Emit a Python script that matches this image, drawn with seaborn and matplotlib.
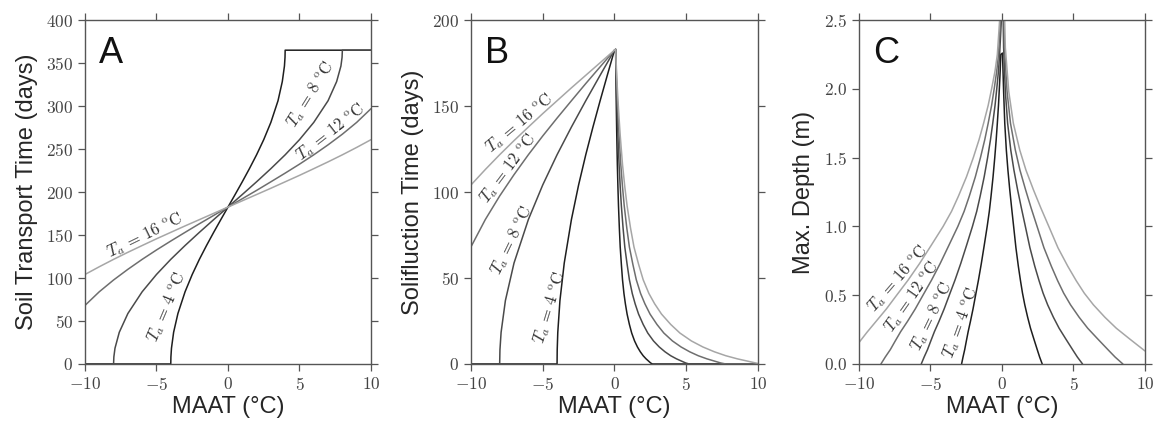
import matplotlib
matplotlib.use("Agg")
import matplotlib.pyplot as plt
import seaborn as sns
from matplotlib.ticker import FuncFormatter, MultipleLocator

# Panel A - soil transport time (days)
a_x_4 = [-10, -4.0, -3.99, -3.95, -3.8, -3.5, -3.0, -2.5, -2.0, -1.5, -1.0, -0.5, 0,
         0.5, 1.0, 1.5, 2.0, 2.5, 3.0, 3.5, 3.8, 3.95, 3.99, 4.0, 10]
a_y_4 = [0, 0, 8.2, 18.4, 36.9, 58.7, 84.0, 104.1, 121.7, 137.8, 153.1, 167.9, 182.5,
         197.1, 211.9, 227.2, 243.3, 260.9, 281.0, 306.2, 328.5, 346.6, 356.8, 365, 365]
a_x_8 = [-10, -8.0, -7.98, -7.9, -7.6, -7.0, -6.0, -5.0, -4.0, -3.0, -2.0, -1.0, 0,
         1.0, 2.0, 3.0, 4.0, 5.0, 6.0, 7.0, 7.6, 7.9, 7.98, 8.0, 10]
a_y_8 = [0, 0, 8.2, 18.4, 36.9, 58.7, 84.0, 104.1, 121.7, 137.8, 153.1, 167.9, 182.5,
         197.1, 211.9, 227.2, 243.3, 260.9, 281.0, 306.2, 328.5, 346.6, 356.8, 365, 365]
a_x_12 = [-10, -9, -8, -7, -6, -5, -4, -3, -2, -1, 0, 1, 2, 3, 4, 5, 6, 7, 8, 9, 10]
a_y_12 = [68.1, 84.0, 97.7, 110.1, 121.7, 132.6, 143.0, 153.1, 163.1, 172.8, 182.5,
          192.2, 201.9, 211.9, 222.0, 232.4, 243.3, 254.9, 267.3, 281.0, 296.9]
a_x_16 = [-10, -9, -8, -7, -6, -5, -4, -3, -2, -1, 0, 1, 2, 3, 4, 5, 6, 7, 8, 9, 10]
a_y_16 = [104.1, 113.1, 121.7, 129.9, 137.8, 145.6, 153.1, 160.6, 167.9, 175.2, 182.5,
          189.8, 197.1, 204.4, 211.9, 219.4, 227.2, 235.1, 243.3, 251.9, 260.9]

# Panel B - solifluction time (days); cold side, then warm side
b_left_x_4 = [-10, -4.0, -3.99, -3.95, -3.8, -3.5, -3.0, -2.5, -2.0, -1.5, -1.0, -0.5, 0]
b_left_y_4 = [0, 0, 8.2, 18.4, 36.9, 58.7, 84.0, 104.1, 121.7, 137.8, 153.1, 167.9, 182.5]
b_left_x_8 = [-10, -8.0, -7.98, -7.9, -7.6, -7.0, -6.0, -5.0, -4.0, -3.0, -2.0, -1.0, 0]
b_left_y_8 = [0, 0, 8.2, 18.4, 36.9, 58.7, 84.0, 104.1, 121.7, 137.8, 153.1, 167.9, 182.5]
b_left_x_12 = [-10, -9, -8, -7, -6, -5, -4, -3, -2, -1, 0]
b_left_y_12 = [68.1, 84.0, 97.7, 110.1, 121.7, 132.6, 143.0, 153.1, 163.1, 172.8, 182.5]
b_left_x_16 = [-10, -9, -8, -7, -6, -5, -4, -3, -2, -1, 0]
b_left_y_16 = [104.1, 113.1, 121.7, 129.9, 137.8, 145.6, 153.1, 160.6, 167.9, 175.2, 182.5]

b_right_y = [183, 167, 154, 143, 133, 116, 103, 92, 79, 68, 58, 49, 41, 35, 29, 23,
             18, 13.4, 9.9, 7.1, 4.8, 3.0, 1.5, 0.6, 0]
b_right_x_4 = [0.08, 0.1, 0.12, 0.14, 0.16, 0.2, 0.24, 0.28, 0.34, 0.4, 0.48, 0.56, 0.66,
               0.76, 0.88, 1.04, 1.2, 1.4, 1.6, 1.8, 2.0, 2.2, 2.4, 2.52, 2.64]
b_right_x_8 = [0.08, 0.12, 0.16, 0.2, 0.24, 0.32, 0.4, 0.48, 0.6, 0.72, 0.88, 1.04, 1.24,
               1.44, 1.68, 2.0, 2.32, 2.72, 3.12, 3.52, 3.92, 4.32, 4.72, 4.96, 5.2]
b_right_x_12 = [0.08, 0.14, 0.2, 0.26, 0.32, 0.44, 0.56, 0.68, 0.86, 1.04, 1.28, 1.52, 1.82,
                2.12, 2.48, 2.96, 3.44, 4.04, 4.64, 5.24, 5.84, 6.44, 7.04, 7.4, 7.76]
b_right_x_16 = [0.08, 0.16, 0.24, 0.32, 0.4, 0.56, 0.72, 0.88, 1.12, 1.36, 1.68, 2.0, 2.4,
                2.8, 3.28, 3.92, 4.56, 5.36, 6.16, 6.96, 7.76, 8.56, 9.36, 9.84, 10.0]
b_right_y_16 = [183, 167, 154, 143, 133, 116, 103, 92, 79, 68, 58, 49, 41, 35, 29, 23,
                18, 13.4, 9.9, 7.1, 4.8, 3.0, 1.5, 0.6, 0.3]

# Panel C - max depth (m); cold side, peak, warm side
c_left_y = [0, 0.05, 0.105, 0.16, 0.235, 0.31, 0.40, 0.5, 0.61, 0.73, 0.86, 1.0, 1.11,
            1.22, 1.36, 1.5, 1.63, 1.75, 1.88, 2.0, 2.13, 2.25]
c_left_x_4 = [-2.82, -2.72, -2.6, -2.5, -2.36, -2.2, -2.02, -1.84, -1.64, -1.44, -1.24,
              -1.03, -0.88, -0.76, -0.62, -0.5, -0.4, -0.32, -0.24, -0.18, -0.12, -0.08]
c_left_x_8 = [-5.64, -5.44, -5.2, -5.0, -4.72, -4.4, -4.04, -3.68, -3.28, -2.88, -2.48,
              -2.06, -1.76, -1.52, -1.24, -1.0, -0.8, -0.64, -0.48, -0.36, -0.24, -0.16]
c_left_x_12 = [-8.46, -8.16, -7.8, -7.5, -7.08, -6.6, -6.06, -5.52, -4.92, -4.32, -3.72,
               -3.08, -2.64, -2.28, -1.86, -1.5, -1.2, -0.96, -0.72, -0.54, -0.36, -0.24]
c_left_x_16 = [-10, -9.44, -8.8, -8.08, -7.36, -6.56, -5.76, -4.96, -4.11, -3.52, -3.04,
               -2.48, -2.0, -1.6, -1.28, -0.96, -0.72, -0.48, -0.32]
c_left_y_16 = [0.155, 0.23, 0.31, 0.40, 0.5, 0.61, 0.73, 0.86, 1.0, 1.11, 1.22, 1.36,
               1.5, 1.63, 1.75, 1.88, 2.0, 2.13, 2.25]

c_peak_x = [0.04, 0.06, 0.08, 0.1]
c_peak_y = [2.26, 2.7, 2.8, 2.9]

c_right_y = [2.3, 1.98, 1.75, 1.555, 1.41, 1.265, 1.135, 1.0, 0.845, 0.71, 0.605, 0.515,
             0.43, 0.34, 0.26, 0.18, 0.095, 0.05, 0]
c_right_x_4 = [0.06, 0.12, 0.2, 0.31, 0.42, 0.55, 0.68, 0.82, 0.98, 1.15, 1.3, 1.44,
               1.6, 1.8, 2.0, 2.24, 2.5, 2.64, 2.82]
c_right_x_8 = [0.12, 0.24, 0.4, 0.62, 0.84, 1.1, 1.36, 1.64, 1.96, 2.3, 2.6, 2.88,
               3.2, 3.6, 4.0, 4.48, 5.0, 5.28, 5.64]
c_right_x_12 = [0.18, 0.36, 0.6, 0.94, 1.26, 1.66, 2.04, 2.46, 2.94, 3.46, 3.9, 4.32,
                4.8, 5.4, 6.0, 6.72, 7.5, 7.92, 8.46]
c_right_x_16 = [0.24, 0.48, 0.8, 1.25, 1.68, 2.21, 2.72, 3.28, 3.92, 4.61, 5.2, 5.76,
                6.4, 7.2, 8.0, 8.96, 10.0]

amplitudes = [4, 8, 12, 16]
line_colors = ["#1e1e1e", "#4a4a4a", "#6e6e6e", "#a6a6a6"]

# curve labels: (x, y, rotation) per amplitude
a_labels = {4: (-4.3, 66, 67), 8: (5.8, 314, 58), 12: (7.2, 270, 38), 16: (-5.8, 150, 26)}
b_labels = {4: (-4.5, 33, 73), 8: (-7.15, 72, 64), 12: (-7.4, 114, 53), 16: (-6.6, 140, 40)}
c_labels = {4: (-2.9, 0.30, 70), 8: (-4.93, 0.345, 64), 12: (-6.27, 0.49, 55), 16: (-7.26, 0.62, 49)}

# assemble curves per panel
a_curves = [(a_x_4, a_y_4), (a_x_8, a_y_8), (a_x_12, a_y_12), (a_x_16, a_y_16)]
b_curves = [
    (b_left_x_4 + b_right_x_4 + [10], b_left_y_4 + b_right_y + [0]),
    (b_left_x_8 + b_right_x_8 + [10], b_left_y_8 + b_right_y + [0]),
    (b_left_x_12 + b_right_x_12 + [10], b_left_y_12 + b_right_y + [0]),
    (b_left_x_16 + b_right_x_16, b_left_y_16 + b_right_y_16),
]
c_curves = [
    (c_left_x_4 + [c_peak_x[0]] + c_right_x_4[1:], c_left_y + [c_peak_y[0]] + c_right_y[1:]),
    (c_left_x_8 + [c_peak_x[1]] + c_right_x_8, c_left_y + [c_peak_y[1]] + c_right_y),
    (c_left_x_12 + [c_peak_x[2]] + c_right_x_12, c_left_y + [c_peak_y[2]] + c_right_y),
    (c_left_x_16 + [c_peak_x[3]] + c_right_x_16, c_left_y_16 + [c_peak_y[3]] + c_right_y[:17]),
]

sns.set_style("ticks")
plt.rcParams["mathtext.fontset"] = "cm"
plt.rcParams["font.family"] = ["Liberation Sans", "DejaVu Sans"]

fig = plt.figure(figsize=(11.56, 4.23), dpi=100)
ax_a = fig.add_axes([0.0735, 0.1395, 0.2474, 0.813])
ax_b = fig.add_axes([0.4074, 0.1395, 0.2483, 0.813])
ax_c = fig.add_axes([0.7430, 0.1395, 0.2474, 0.813])

panels = [
    (ax_a, "A", a_curves, a_labels, (0, 400), 50, "Soil Transport Time (days)", "{:g}"),
    (ax_b, "B", b_curves, b_labels, (0, 200), 50, "Solifluction Time (days)", "{:g}"),
    (ax_c, "C", c_curves, c_labels, (0, 2.5), 0.5, "Max. Depth (m)", "{:.1f}"),
]

for ax, letter, curves, labels, ylim, ystep, ylabel, yfmt in panels:
    for (xs, ys), ta, col in zip(curves, amplitudes, line_colors):
        sns.lineplot(x=xs, y=ys, ax=ax, color=col, linewidth=1.1,
                     sort=False, estimator=None)
        lx, ly, rot = labels[ta]
        ax.text(lx, ly, r"$T_a\,=\,%d\ ^\mathrm{o}\mathrm{C}$" % ta, rotation=rot,
                rotation_mode="anchor", ha="center", va="center",
                fontsize=12, color="#333333")
    ax.set_xlim(-10, 10)
    ax.set_ylim(*ylim)
    ax.xaxis.set_major_locator(MultipleLocator(5))
    ax.yaxis.set_major_locator(MultipleLocator(ystep))
    ax.xaxis.set_major_formatter(FuncFormatter(lambda v, p: r"$%g$" % v))
    ax.yaxis.set_major_formatter(FuncFormatter(lambda v, p, f=yfmt: "$" + f.format(v) + "$"))
    ax.tick_params(direction="out", length=5, width=0.9, color="#555555",
                   labelsize=12.5, labelcolor="#444444",
                   top=True, right=True, bottom=True, left=True)
    for s in ax.spines.values():
        s.set_visible(True)
        s.set_color("#555555")
        s.set_linewidth(1.0)
    ax.set_xlabel("MAAT (°C)", fontsize=17, labelpad=2)
    ax.set_ylabel(ylabel, fontsize=17, labelpad=6)
    ax.text(0.05, 0.955, letter, transform=ax.transAxes, ha="left", va="top",
            fontsize=26, color="#111111")

fig.savefig("out.png", dpi=100)
